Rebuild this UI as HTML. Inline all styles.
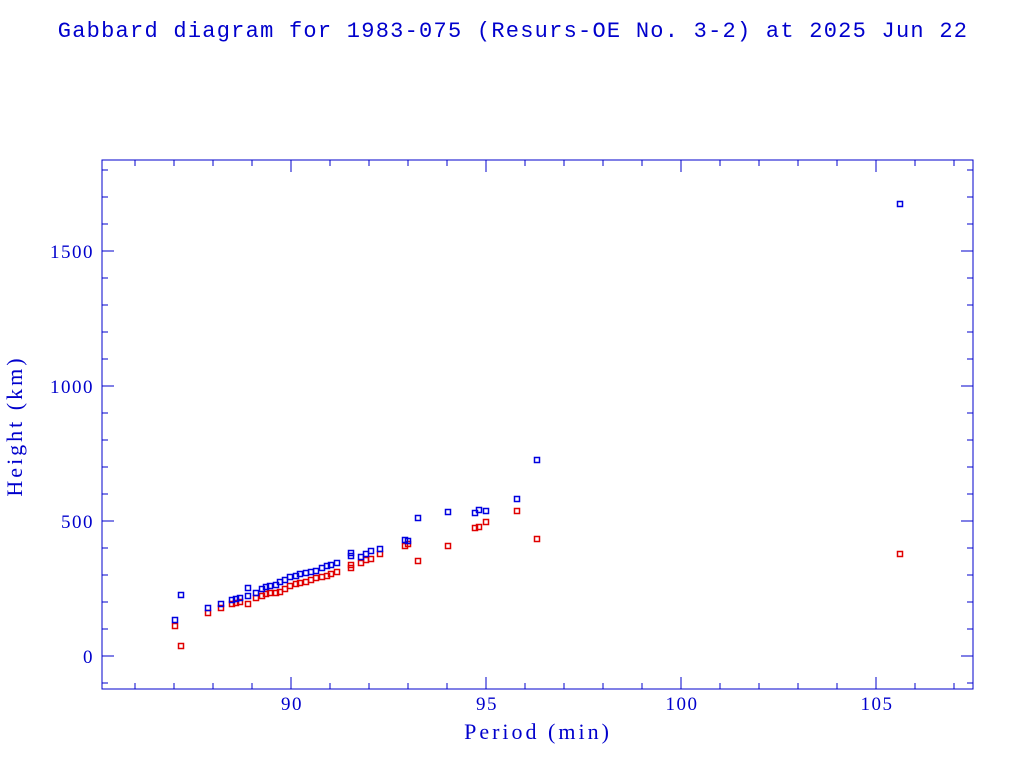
<!DOCTYPE html>
<html><head><meta charset="utf-8"><style>body{margin:0;background:#fff}svg{display:block}</style></head>
<body>
<svg id="s" width="1024" height="768" xmlns="http://www.w3.org/2000/svg" font-family="Liberation Serif, serif" fill="#0000cc">
<text x="513" y="37" text-anchor="middle" font-size="22" font-family="Liberation Mono, monospace" letter-spacing="1.25">Gabbard diagram for 1983-075 (Resurs-OE No. 3-2) at 2025 Jun 22</text>
<rect x="102" y="160" width="871" height="529" fill="none" stroke="#0000cc" stroke-width="1"/>
<g id="t" stroke="#0000cc" stroke-width="1"></g>
<g font-size="19" text-anchor="middle" letter-spacing="1.5">
<text x="292" y="710">90</text><text x="487" y="710">95</text><text x="682" y="710">100</text><text x="877" y="710">105</text>
<text x="538" y="739" font-size="22" letter-spacing="3">Period (min)</text>
</g>
<g font-size="19" text-anchor="end" letter-spacing="1.5">
<text x="94" y="663">0</text><text x="94" y="528">500</text><text x="94" y="393">1000</text><text x="94" y="258">1500</text>
</g>
<text transform="translate(22,426) rotate(-90)" text-anchor="middle" font-size="22" letter-spacing="3">Height (km)</text>
<g id="p" fill="none" stroke-width="1.5"></g>
</svg>
<script>
var t=document.getElementById('t'),h='';
for(var m=86;m<=107;m++){var x=291+(m-90)*39;if(x<=102||x>=973)continue;var L=(m%5==0)?12:6;
h+='<line x1="'+x+'" y1="689" x2="'+x+'" y2="'+(689-L)+'"/><line x1="'+x+'" y1="160" x2="'+x+'" y2="'+(160+L)+'"/>';}
for(var k=-100;k<=1900;k+=100){var y=656-k*0.27;if(y<=160||y>=689)continue;var L=(k%500==0)?12:6;
h+='<line x1="102" y1="'+y+'" x2="'+(102+L)+'" y2="'+y+'"/><line x1="973" y1="'+y+'" x2="'+(973-L)+'" y2="'+y+'"/>';}
t.innerHTML=h;
var B=[[175,620],[181,595],[208,608],[221,604],[232,600],[236,599],[240,598],[248,588],[248,596],[256,593],[262,589],[266,587],[270,586],[276,585],[280,582],[285,580],[290,577],[296,576],[300,574],[306,573],[311,572],[316,571],[322,568],[327,566],[331,565],[337,563],[351,556],[351,553],[361,557],[366,554],[371,551],[380,549],[405,540],[408,541],[418,518],[448,512],[475,513],[479,510],[486,511],[517,499],[537,460],[900,204]];
var R=[[175,626],[181,646],[208,613],[221,608],[232,604],[236,603],[240,602],[248,604],[256,598],[262,596],[266,594],[270,593],[276,593],[280,592],[285,589],[290,586],[296,584],[300,583],[306,582],[311,580],[316,578],[322,577],[327,576],[331,574],[337,572],[351,568],[351,565],[361,563],[366,560],[371,559],[380,554],[405,546],[408,544],[418,561],[448,546],[475,528],[479,527],[486,522],[517,511],[537,539],[900,554]];
var p='';
R.forEach(function(q){p+='<rect x="'+(q[0]-2.5)+'" y="'+(q[1]-2.5)+'" width="5" height="5" stroke="#e00000"/>';});
B.forEach(function(q){p+='<rect x="'+(q[0]-2.5)+'" y="'+(q[1]-2.5)+'" width="5" height="5" stroke="#0000e0"/>';});
document.getElementById('p').innerHTML=p;
</script>
</body></html>
